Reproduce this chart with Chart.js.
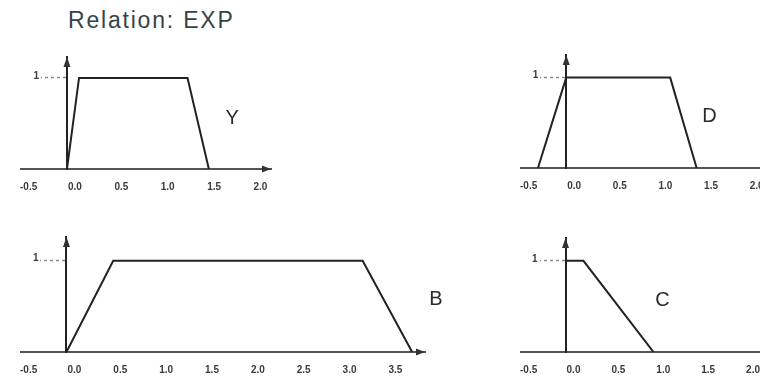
<!DOCTYPE html>
<html>
<head>
<meta charset="utf-8">
<title>Relation: EXP</title>
<script src="https://cdn.jsdelivr.net/npm/chart.js@4.4.1/dist/chart.umd.min.js"></script>
<style>
  body { margin: 0; width: 760px; height: 380px; overflow: hidden; background: #fff; position: relative; }
  h1 { position: absolute; left: 68px; top: 9px; margin: 0; font: normal 23px/23px "Liberation Sans", Arial, sans-serif; letter-spacing: 1.8px; color: #36434a; }
  canvas { position: absolute; }
</style>
</head>
<body>
<h1>Relation: EXP</h1>
<canvas id="chartY" width="300" height="165" style="left:0;top:40px"></canvas>
<canvas id="chartD" width="300" height="165" style="left:500px;top:40px"></canvas>
<canvas id="chartB" width="460" height="160" style="left:0;top:220px"></canvas>
<canvas id="chartC" width="300" height="160" style="left:500px;top:220px"></canvas>
<script>
// breakpoints of each membership function (x) and their grades (y)
const yX = [0, 0.13, 1.3, 1.53];
const yY = [0, 1, 1, 0];
const dX = [-0.31, 0, 1.14, 1.43];
const dY = [0, 1, 1, 0];
const bX = [0, 0.51, 3.23, 3.77];
const bY = [0, 1, 1, 0];
const cX = [0, 0.2, 0.98];
const cY = [1, 1, 0];

const shortTicks = [-0.5, 0, 0.5, 1, 1.5, 2];
const longTicks = [-0.5, 0, 0.5, 1, 1.5, 2, 2.5, 3, 3.5];
const gradeTicks = [1];

const tickFont = { family: '"Liberation Sans", Arial, sans-serif', size: 10, weight: 'bold' };
const LEADER = 25;

// arrow heads on the x and y axes, plus the grade label left of the dashed leader
const axisArrows = {
  id: 'axisArrows',
  afterDraw(chart) {
    const { ctx, chartArea, scales: { x, y } } = chart;
    const x0 = x.getPixelForValue(0);
    const y0 = y.getPixelForValue(0);
    ctx.save();
    ctx.fillStyle = '#333';
    ctx.beginPath();
    ctx.moveTo(chartArea.right, y0);
    ctx.lineTo(chartArea.right - 9, y0 - 3.5);
    ctx.lineTo(chartArea.right - 9, y0 + 3.5);
    ctx.closePath();
    ctx.moveTo(x0, chartArea.top);
    ctx.lineTo(x0 - 3.5, chartArea.top + 10);
    ctx.lineTo(x0 + 3.5, chartArea.top + 10);
    ctx.closePath();
    ctx.fill();

    ctx.font = 'bold 10px "Liberation Sans", Arial, sans-serif';
    ctx.fillStyle = '#3a3a3a';
    ctx.textAlign = 'right';
    ctx.textBaseline = 'middle';
    gradeTicks.forEach(g => ctx.fillText(String(g), x0 - LEADER - 3, y.getPixelForValue(g) - 2));
    ctx.restore();
  }
};

// letter naming the fuzzy set, placed in data coordinates
const setName = {
  id: 'setName',
  afterDraw(chart, args, opts) {
    const { ctx, scales: { x, y } } = chart;
    ctx.save();
    ctx.font = '20px "Liberation Sans", Arial, sans-serif';
    ctx.fillStyle = '#2a2a2a';
    ctx.textAlign = 'center';
    ctx.textBaseline = 'middle';
    ctx.fillText(opts.text, x.getPixelForValue(opts.x), y.getPixelForValue(opts.y));
    ctx.restore();
  }
};

function makeChart(id, name, xs, ys, ticks, o) {
  return new Chart(document.getElementById(id), {
    type: 'line',
    data: {
      datasets: [{
        data: xs.map((v, i) => ({ x: v, y: ys[i] })),
        borderColor: '#222',
        borderWidth: 2,
        pointRadius: 0,
        tension: 0,
        fill: false
      }]
    },
    options: {
      responsive: false,
      animation: false,
      layout: { padding: o.pad },
      plugins: {
        legend: { display: false },
        tooltip: { enabled: false },
        setName: { text: name, x: o.nameAt[0], y: o.nameAt[1] }
      },
      scales: {
        x: {
          type: 'linear',
          position: 'bottom',
          min: o.xMin,
          max: o.xMax,
          afterBuildTicks: s => { s.ticks = ticks.map(v => ({ value: v })); },
          afterFit: s => { s.height = 28; },
          grid: { display: false, drawTicks: false },
          border: { display: true, color: '#555', width: 2 },
          ticks: {
            padding: 12,
            labelOffset: 8,
            maxRotation: 0,
            autoSkip: false,
            color: '#3a3a3a',
            font: tickFont,
            callback: v => v.toFixed(1)
          }
        },
        y: {
          type: 'linear',
          position: { x: 0 },
          min: 0,
          max: o.yMax,
          afterBuildTicks: s => { s.ticks = gradeTicks.map(v => ({ value: v })); },
          grid: {
            display: true,
            drawOnChartArea: false,
            drawTicks: true,
            tickLength: LEADER,
            tickColor: '#888',
            tickWidth: 1.5,
            tickBorderDash: [3, 3]
          },
          border: { display: true, color: '#222', width: 2 },
          ticks: { display: false }
        }
      }
    },
    plugins: [axisArrows, setName]
  });
}

makeChart('chartY', 'Y', yX, yY, shortTicks, {
  xMin: -0.5, xMax: 2.2, yMax: 1.23,
  pad: { left: 17, right: 29, top: 17, bottom: 8 }, nameAt: [1.78, 0.56]
});
makeChart('chartD', 'D', dX, dY, shortTicks, {
  xMin: -0.5, xMax: 2.3, yMax: 1.25,
  pad: { left: 20, right: 24, top: 15, bottom: 9 }, nameAt: [1.57, 0.57]
});
makeChart('chartB', 'B', bX, bY, longTicks, {
  xMin: -0.5, xMax: 3.91, yMax: 1.26,
  pad: { left: 17, right: 35, top: 17, bottom: 0 }, nameAt: [4.03, 0.57]
});
makeChart('chartC', 'C', cX, cY, shortTicks, {
  xMin: -0.5, xMax: 2.3, yMax: 1.25,
  pad: { left: 20, right: 28, top: 18, bottom: 0 }, nameAt: [1.08, 0.57]
});
</script>
</body>
</html>
